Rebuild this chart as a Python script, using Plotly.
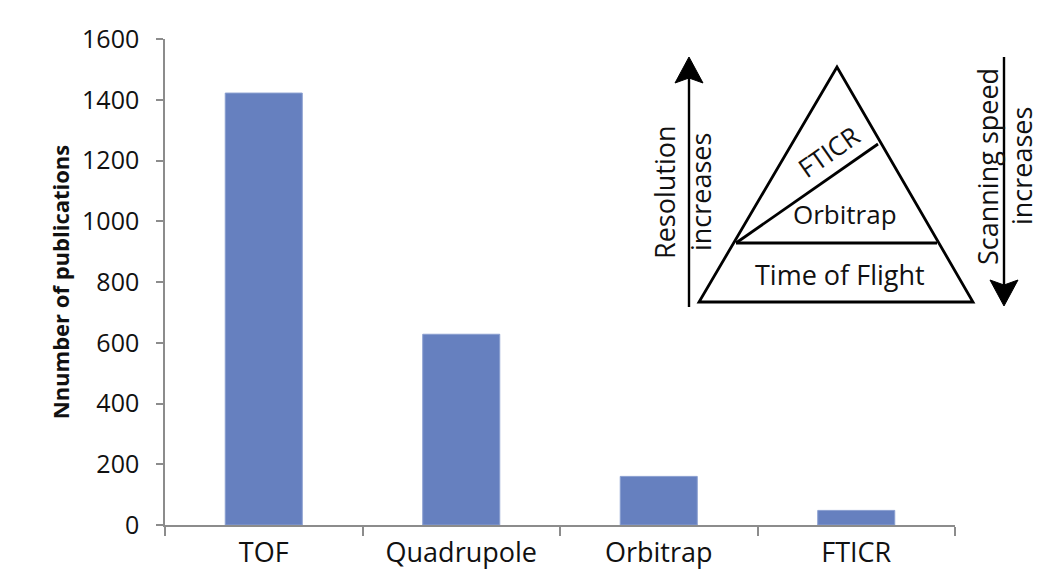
import plotly.graph_objects as go

# Publication counts per mass analyser type
analysers = ["TOF", "Quadrupole", "Orbitrap", "FTICR"]
publications = [1422, 628, 160, 48]
y_ticks = [0, 200, 400, 600, 800, 1000, 1200, 1400, 1600]

W, H = 1039, 571
ML, MR, MT, MB = 165, 84, 39, 46
PW, PH = W - ML - MR, H - MT - MB


def px(x):
    """Pixel x -> paper x."""
    return (x - ML) / PW


def py(y):
    """Pixel y -> paper y."""
    return (H - MB - y) / PH


fig = go.Figure(
    go.Bar(
        x=analysers,
        y=publications,
        width=0.39,
        marker=dict(color="#6680bf", line=dict(color="#8a9fd0", width=1)),
    )
)

axis_grey = "#8c8c8c"
fig.update_layout(
    width=W,
    height=H,
    margin=dict(l=ML, r=MR, t=MT, b=MB, autoexpand=False),
    paper_bgcolor="white",
    plot_bgcolor="white",
    showlegend=False,
    font=dict(family="Open Sans", color="#1a1a1a"),
)
fig.update_xaxes(
    range=[-0.5, 3.5],
    automargin=False,
    showline=True,
    linecolor=axis_grey,
    linewidth=1.5,
    ticks="outside",
    tickson="boundaries",
    ticklen=9,
    tickcolor=axis_grey,
    tickwidth=1.5,
    tickfont=dict(size=27, family="Open Sans", color="#111"),
    ticklabelstandoff=3,
    showgrid=False,
)
fig.update_yaxes(
    range=[0, 1600],
    automargin=False,
    tickvals=y_ticks,
    showline=True,
    linecolor=axis_grey,
    linewidth=1.5,
    ticks="outside",
    ticklen=7,
    tickcolor=axis_grey,
    tickwidth=1.5,
    tickfont=dict(size=25, family="Open Sans", color="#111"),
    ticklabelstandoff=12,
    title=dict(
        text="<b>Nnumber of publications</b>",
        font=dict(size=22, family="Open Sans", color="#111"),
        standoff=6,
    ),
    showgrid=False,
    zeroline=False,
)

# Inset: analyser pyramid


def seg(x0, y0, x1, y1, width=2.8):
    fig.add_shape(type="line", xref="paper", yref="paper",
                  x0=px(x0), y0=py(y0), x1=px(x1), y1=py(y1),
                  line=dict(color="black", width=width))


def path(points, fill=None, width=2.8):
    d = "M " + " L ".join(f"{px(a):.5f},{py(b):.5f}" for a, b in points) + " Z"
    fig.add_shape(type="path", xref="paper", yref="paper", path=d,
                  line=dict(color="black", width=width),
                  fillcolor=fill if fill else "rgba(0,0,0,0)")


path([(837, 67), (699, 302), (973, 302)])
seg(736, 243, 937, 243)
seg(736, 243, 878, 144)

# Resolution arrow (up)
seg(689, 307, 689, 75, width=2.4)
path([(689, 57), (703, 83), (689, 78), (675, 83)], fill="black", width=1)
# Scanning speed arrow (down)
seg(1004, 57, 1004, 288, width=2.4)
path([(1004, 306), (990, 280), (1004, 285), (1018, 280)], fill="black", width=1)

labels = [
    ("Resolution", 665, 192, -90, 27, None),
    ("increases", 701, 192, -90, 27, None),
    ("Scanning speed", 987, 167, -90, 27, None),
    ("increases", 1021, 166, -90, 27, 24),
    ("FTICR", 828, 152, -35, 26, None),
    ("Orbitrap", 845, 214, 0, 26, None),
    ("Time of Flight", 840, 274, 0, 27, None),
]
for txt, x, y, ang, size, box_h in labels:
    fig.add_annotation(x=px(x), y=py(y), xref="paper", yref="paper",
                       text=txt, textangle=ang, showarrow=False,
                       font=dict(size=size, family="Open Sans", color="#111"),
                       xanchor="center", yanchor="middle", height=box_h)

fig.write_html("out.html")
